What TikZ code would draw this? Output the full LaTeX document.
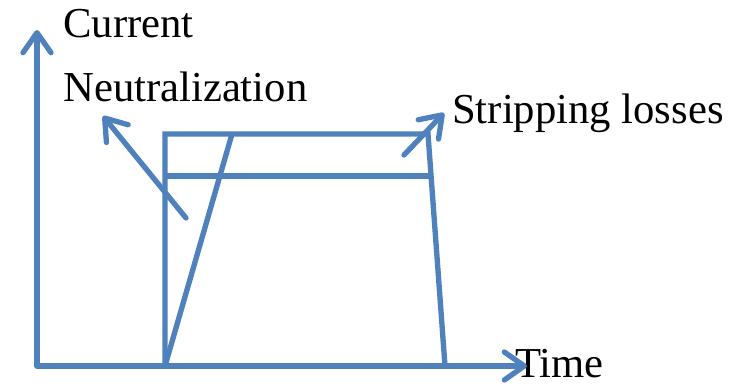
\documentclass[tikz,border=0pt]{standalone}
\usepackage{fontspec}
\setmainfont{Liberation Serif}
\usetikzlibrary{arrows.meta}
\definecolor{lineblue}{RGB}{79,129,189}
\tikzset{
  curve/.style={draw=lineblue, line width=4pt},
  pointer/.style={curve, line cap=round, -{Straight Barb[length=15pt,width=21pt,round]}},
  label/.style={anchor=base west, inner sep=0pt, font=\fontsize{32}{38}\selectfont}
}
\begin{document}
\begin{tikzpicture}[x=0.75pt, y=0.75pt]
            \useasboundingbox (0, 0) rectangle (739, 387);

            \coordinate (o) at (37, 21);
            \coordinate (ytop) at (37, 357);
            \coordinate (xend) at (527, 21);
            \coordinate (p1) at (165, 21);
            \coordinate (p2) at (165, 253);
            \coordinate (p3) at (428, 253);
            \coordinate (p4) at (445, 21);
            \coordinate (r1) at (232, 253);
            \coordinate (m1) at (165, 211);
            \coordinate (m2) at (431, 211);
            \coordinate (n1) at (186, 169);
            \coordinate (n2) at (103, 271);
            \coordinate (s1) at (404, 232);
            \coordinate (s2) at (444, 274);

            \node[label] (cur) at (63, 350) { Current };
            \node[label] (neu) at (63, 286) { Neutralization };
            \node[label] (str) at (452, 264) { Stripping losses };
            \node[label] (tim) at (515, 10) { Time };

            \draw[pointer] (o) -- (ytop);
            \draw[pointer] (o) -- (xend);

            \draw[curve] (p1) -- (p2) -- (p3) -- (p4);
            \draw[curve] (p1) -- (r1);
            \draw[curve] (m1) -- (m2);

            \draw[pointer] (n1) -- (n2);
            \draw[pointer] (s1) -- (s2);
        \end{tikzpicture}
\end{document}
